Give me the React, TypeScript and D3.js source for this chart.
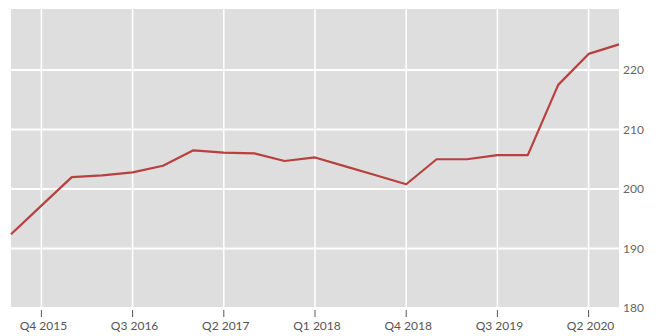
import React from "react";
import * as d3 from "d3";

const quarters = [
  "Q3 2015", "Q4 2015", "Q1 2016", "Q2 2016", "Q3 2016", "Q4 2016",
  "Q1 2017", "Q2 2017", "Q3 2017", "Q4 2017", "Q1 2018", "Q2 2018",
  "Q3 2018", "Q4 2018", "Q1 2019", "Q2 2019", "Q3 2019", "Q4 2019",
  "Q1 2020", "Q2 2020", "Q3 2020",
];
const values = [
  192.4, 197.2, 202.0, 202.3, 202.8, 203.9,
  206.5, 206.1, 206.0, 204.7, 205.3, 203.8,
  202.3, 200.8, 205.0, 205.0, 205.7, 205.7,
  217.5, 222.7, 224.3,
];
const xTickLabels = ["Q4 2015", "Q3 2016", "Q2 2017", "Q1 2018", "Q4 2018", "Q3 2019", "Q2 2020"];
const yTicks = [180, 190, 200, 210, 220];

const W = 656;
const H = 336;
const left = 11;
const right = 619;
const top = 9;
const bottom = 308;

export default function App() {
  const x = d3.scaleLinear().domain([0, quarters.length - 1]).range([left, right]);
  const y = d3.scaleLinear().domain([180, 230.25]).range([bottom, top]);
  const line = d3
    .line<number>()
    .x((_, i) => x(i))
    .y((d) => y(d));
  const font = "Lato, 'Open Sans', sans-serif";
  return (
    <svg
      width={W}
      height={H}
      style={{ position: "absolute", left: 0, top: 0 }}
      fontFamily={font}
    >
      <rect x={0} y={0} width={W} height={H} fill="#ffffff" />
      <rect x={left} y={top} width={right - left} height={bottom - top} fill="#dedede" />
      {yTicks.map((t) => (
        <g key={t}>
          <line x1={left} x2={right} y1={y(t)} y2={y(t)} stroke="#ffffff" strokeWidth={2} />
          <text x={623} y={y(t)} dy="0.35em" fontSize={12} fill="#666">
            {t}
          </text>
        </g>
      ))}
      {xTickLabels.map((lab) => {
        const i = quarters.indexOf(lab);
        const xx = x(i);
        return (
          <g key={lab}>
            <line x1={xx} x2={xx} y1={top} y2={bottom} stroke="#ffffff" strokeWidth={1.5} />
            <line x1={xx} x2={xx} y1={bottom + 2} y2={bottom + 9} stroke="#555" strokeWidth={1} />
            <text x={xx + 2} y={330} textAnchor="middle" fontSize={12} fill="#555">
              {lab}
            </text>
          </g>
        );
      })}
      <path d={line(values) || ""} fill="none" stroke="#b8403f" strokeWidth={2.2} strokeLinejoin="round" />
    </svg>
  );
}
